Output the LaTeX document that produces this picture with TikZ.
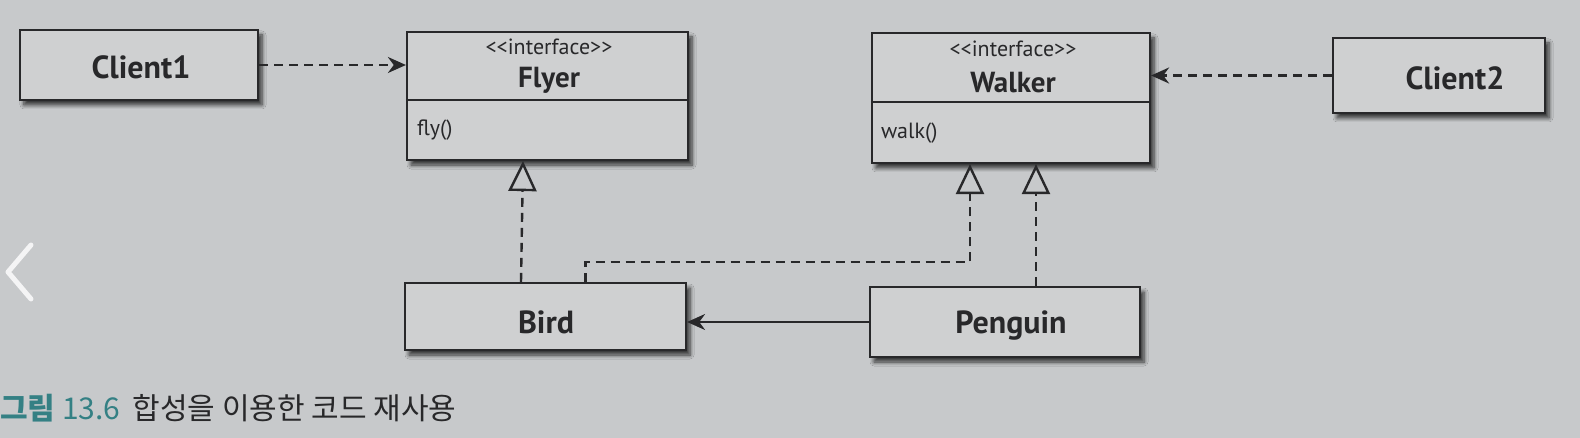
\documentclass[tikz,border=0pt]{standalone}
\usepackage{fontspec}
\setmainfont{PT Sans}
\newfontfamily\cjk{Noto Sans CJK KR}
\usetikzlibrary{arrows.meta,shadows.blur}
\definecolor{bg}{RGB}{199,201,203}
\definecolor{boxfill}{RGB}{207,208,209}
\definecolor{ink}{RGB}{40,40,42}
\definecolor{teal}{RGB}{52,128,132}
\tikzset{
  umlbox/.style={draw=ink, line width=1.1pt, fill=boxfill, inner sep=0pt,
    blur shadow={shadow xshift=2pt, shadow yshift=-2.5pt, shadow blur steps=6, shadow opacity=75}},
  bold/.style={font=\fontsize{16}{18}\selectfont\bfseries, text=ink},
  ifname/.style={font=\fontsize{14.5}{16}\selectfont\bfseries, text=ink},
  stereo/.style={font=\fontsize{11}{12}\selectfont, text=ink},
  oper/.style={font=\fontsize{11}{13}\selectfont, text=ink, anchor=west},
  dep/.style={draw=ink, line width=1.2pt, dash pattern=on 4.5pt off 3pt, -{Stealth[length=9pt,width=8pt]}},
  real/.style={draw=ink, line width=1.2pt, dash pattern=on 4.5pt off 3pt, -{Triangle[open,length=15pt,width=14pt,fill=bg]}},
  assoc/.style={draw=ink, line width=0.9pt, -{Stealth[length=9pt,width=8pt]}}
}
\begin{document}
\begin{tikzpicture}[x=0.5pt,y=-0.5pt]
\fill[bg] (0,0) rectangle (1580,438);
\useasboundingbox (0,0) rectangle (1580,438);
% boxes
\node[umlbox, minimum width=119pt, minimum height=35pt] (client1) at (139,65) {};
\node[bold] (client1t) at (141,67) {Client1};
\node[umlbox, minimum width=140.5pt, minimum height=64pt] (flyer) at (547.5,96) {};
\draw[ink, line width=1.1pt] (flyer.west |- 0,100) -- (flyer.east |- 0,100);
\node[stereo] (flyers) at (549,47) {{<}{<}interface{>}{>}};
\node[ifname] (flyert) at (549,80) {Flyer};
\node[oper] (flyerop) at (410,130) {fly()};
\node[umlbox, minimum width=139pt, minimum height=65pt] (walker) at (1011,98) {};
\draw[ink, line width=1.1pt] (walker.west |- 0,102) -- (walker.east |- 0,102);
\node[stereo] (walkers) at (1013,49) {{<}{<}interface{>}{>}};
\node[ifname] (walkert) at (1013,83) {Walker};
\node[oper] (walkerop) at (874,133) {walk()};
\node[umlbox, minimum width=106pt, minimum height=37.5pt] (client2) at (1439,75.5) {};
\node[bold] (client2t) at (1455,78) {Client2};
\node[umlbox, minimum width=140.5pt, minimum height=33.5pt] (bird) at (545.5,316.5) {};
\node[bold] (birdt) at (546,322) {Bird};
\node[umlbox, minimum width=135pt, minimum height=35pt] (penguin) at (1005,322) {};
\node[bold] (penguint) at (1011,326) {Penguin};
% connectors
\draw[dep] (client1.east) -- (client1.east -| flyer.west);
\draw[dep] (client2.west) -- (client2.west -| walker.east);
\draw[real] ([xshift=-12.25pt]bird.north) -- ([xshift=-12.25pt]flyer.south);
\coordinate (bwturn) at (970,262);
\draw[real] ([xshift=20pt]bird.north) -- ([xshift=20pt]bird.north |- bwturn) -- (bwturn) -- (bwturn |- walker.south);
\coordinate (pwx) at (1036,0);
\draw[real] (pwx |- penguin.north) -- (pwx |- walker.south);
\draw[assoc] (penguin.west) -- (penguin.west -| bird.east);
% caption
\node[anchor=base west, inner sep=0pt, font=\cjk\fontsize{15}{17}\selectfont] (cap) at (0,419)
  {\textcolor{teal}{{\bfseries 그림}\ 13.6}\hspace{0.4em}\textcolor{ink}{합성을 이용한 코드 재사용}};
% viewer chevron
\draw[white!80!bg, line width=2.5pt, line cap=round, line join=round] (31,245) -- (8,272) -- (31,299);
\end{tikzpicture}
\end{document}
